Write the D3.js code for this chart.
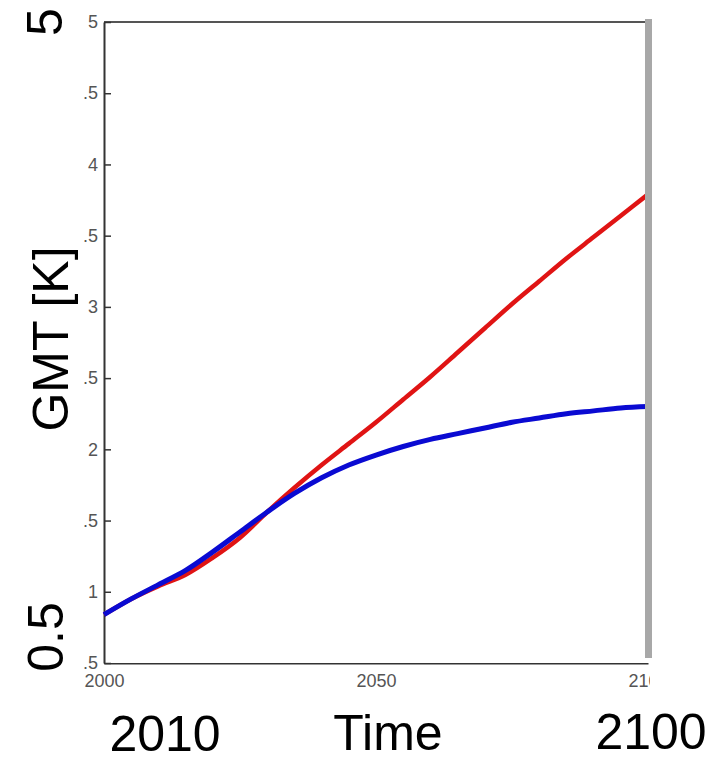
<!DOCTYPE html>
<html>
<head>
<meta charset="utf-8">
<script src="https://cdn.jsdelivr.net/npm/d3@7"></script>
<style>
  body { margin: 0; background: #fff; }
  svg { display: block; font-family: "Liberation Sans", Arial, sans-serif; }
</style>
</head>
<body>
<script>
var years = [2000, 2005, 2010, 2015, 2020, 2025, 2030, 2035, 2040, 2045, 2050,
             2055, 2060, 2065, 2070, 2075, 2080, 2085, 2090, 2095, 2100];
var redValues = [0.84, 0.95, 1.04, 1.12, 1.24, 1.38, 1.56, 1.73, 1.89, 2.04, 2.19,
                 2.35, 2.51, 2.68, 2.85, 3.02, 3.18, 3.34, 3.49, 3.64, 3.79];
var blueValues = [0.84, 0.95, 1.05, 1.15, 1.28, 1.42, 1.56, 1.69, 1.80, 1.89, 1.96,
                  2.02, 2.07, 2.11, 2.15, 2.19, 2.22, 2.25, 2.27, 2.29, 2.30];
var yTickValues = [5, 4.5, 4, 3.5, 3, 2.5, 2, 1.5, 1, 0.5];
var yTickLabels = ["5", ".5", "4", ".5", "3", ".5", "2", ".5", "1", ".5"];
var xTickValues = [2000, 2050, 2100];
var xTickLabels = ["2000", "2050", "2100"];

var width = 720, height = 761;
var svg = d3.select("body").append("svg")
    .attr("width", width)
    .attr("height", height);

var x = d3.scaleLinear().domain([2000, 2100]).range([104, 648]);
var y = d3.scaleLinear().domain([0.5, 5]).range([663, 22]);

// clip so the last small x label is cut off like in the picture
svg.append("clipPath").attr("id", "clip")
  .append("rect").attr("x", 0).attr("y", 0).attr("width", 650).attr("height", height);

// top frame line
svg.append("line")
    .attr("x1", x(2000)).attr("x2", 645)
    .attr("y1", y(5)).attr("y2", y(5))
    .attr("stroke", "#555").attr("stroke-width", 2);

var yAxis = d3.axisLeft(y)
    .tickValues(yTickValues)
    .tickFormat(function(d, i) { return yTickLabels[i]; })
    .tickSizeInner(-7).tickSizeOuter(0).tickPadding(6);

var xAxis = d3.axisBottom(x)
    .tickValues(xTickValues)
    .tickFormat(function(d, i) { return xTickLabels[i]; })
    .tickSizeInner(-6).tickSizeOuter(0).tickPadding(11);

var gy = svg.append("g").attr("transform", "translate(" + x(2000) + ",0)").call(yAxis);
var gx = svg.append("g").attr("transform", "translate(0," + y(0.5) + ")")
    .attr("clip-path", "url(#clip)").call(xAxis);

[gx, gy].forEach(function(g) {
  g.select(".domain").attr("stroke", "#333").attr("stroke-width", 2);
  g.selectAll(".tick line").attr("stroke", "#333").attr("stroke-width", 1.5);
  g.selectAll(".tick text")
    .attr("fill", "#555")
    .style("font-family", "'Liberation Sans', Arial, sans-serif")
    .style("font-size", "18px");
});

var line = d3.line()
    .x(function(d) { return x(d[0]); })
    .y(function(d) { return y(d[1]); })
    .curve(d3.curveCatmullRom.alpha(0.5));

svg.append("path")
    .attr("d", line(years.map(function(t, i) { return [t, redValues[i]]; })))
    .attr("fill", "none").attr("stroke", "#e01414").attr("stroke-width", 4.5);

svg.append("path")
    .attr("d", line(years.map(function(t, i) { return [t, blueValues[i]]; })))
    .attr("fill", "none").attr("stroke", "#0a0ad2").attr("stroke-width", 5);

// grey bar at the right edge
svg.append("rect")
    .attr("x", 645).attr("y", 19).attr("width", 7).attr("height", 639)
    .attr("fill", "#a8a8a8");

// big overlay labels
var big = svg.append("g").attr("fill", "#000").style("font-size", "50px");

big.append("text").attr("transform", "translate(62,22) rotate(-90)")
    .attr("text-anchor", "middle").text("5");
big.append("text").attr("transform", "translate(63,637) rotate(-90)")
    .attr("text-anchor", "middle").text("0.5");
big.append("text").attr("transform", "translate(68,339) rotate(-90)")
    .attr("text-anchor", "middle").text("GMT [K]");

big.append("text").attr("x", 165).attr("y", 751)
    .attr("text-anchor", "middle").text("2010");
big.append("text").attr("x", 388).attr("y", 750)
    .attr("text-anchor", "middle").text("Time");
big.append("text").attr("x", 651).attr("y", 749)
    .attr("text-anchor", "middle").text("2100");
</script>
</body>
</html>
